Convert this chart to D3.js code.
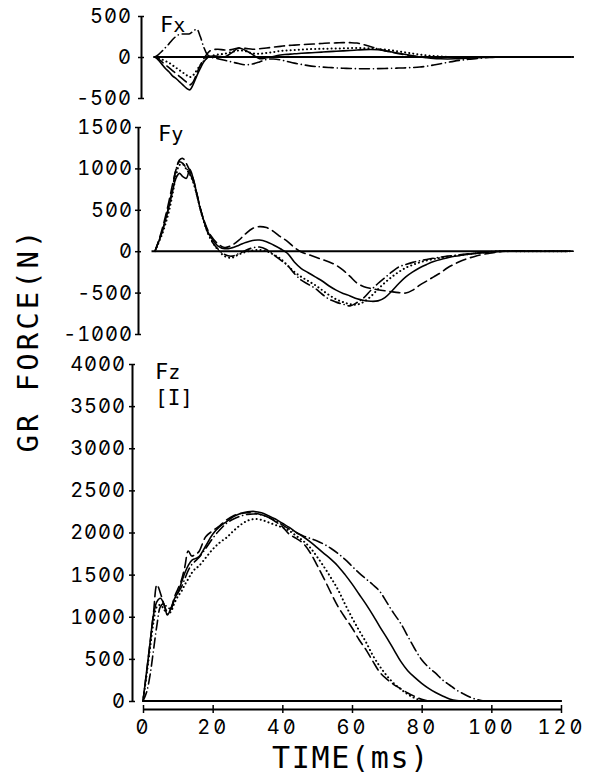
<!DOCTYPE html>
<html><head><meta charset="utf-8">
<script src="https://cdn.jsdelivr.net/npm/d3@7"></script>
<style>body{margin:0;background:#fff}svg{display:block}
.num{font-family:Inter,'DejaVu Sans Mono',monospace;font-feature-settings:"zero" 1,"tnum" 1;}</style>
</head><body>
<svg id="c" width="596" height="775"></svg>
<script>
// time samples (ms), shared by all series
const T = [0,1,2,3,4,5,6,7,8,9,10,11,12,13,14,15,16,
  18,20,22,24,26,28,30,32,34,36, 38,40,42,44,46,48,50,52,54,56,
  58,60,62,64,66,68,70,72,74,76, 78,80,82,84,86,88,90,92,94,96, 98,100, 110,120];

// Fx (N)
const fxSolid = [0,-40,-90,-140,-180,-230,-260,-300,-340,-380,-400,-330,-230,-140,-60,-10,10,
  10,0,50,110,80,30,-20,-10,5,25, 32,40,45,50,55,60,65,70,75,80,
  85,90,92,88,75,60,45,30,15,0, -10,-18,-22,-24,-22,-18,-14,-10,-6,-3, 0,0, 0,0];
const fxDashDot = [0,30,70,115,160,210,250,275,280,280,285,315,340,250,120,30,0,
  -20,-40,-60,-80,-95,-85,-60,-30,-25,-35, -55,-75,-90,-105,-115,-122,-128,-133,-137,-140,
  -142,-143,-143,-142,-140,-138,-135,-132,-128,-122, -112,-98,-82,-65,-50,-38,-28,-20,-12,-6, -2,0, 0,0];
const fxDashed = [0,-25,-60,-95,-130,-165,-200,-235,-270,-305,-340,-300,-200,-100,-20,40,80,
  95,85,90,110,105,95,100,110,120,130, 140,145,150,155,160,165,170,172,175,175,
  170,150,125,100,78,58,40,25,12,3, 0,0,0,0,0,0,0,0,0,0, 0,0, 0,0];
const fxDotted = [0,-15,-30,-50,-70,-100,-130,-160,-190,-220,-245,-220,-160,-100,-50,-10,10,
  30,40,60,80,70,45,40,50,60,75, 80,85,90,95,98,100,102,104,106,108,
  110,108,104,98,90,80,68,55,42,30, 20,12,6,2,0,0,0,0,0,0, 0,0, 0,0];

// Fy (N)
const fySolid = [0,110,230,380,540,720,880,940,900,880,990,870,690,510,370,250,170,
  65,30,40,70,105,130,135,115,75,30, -25,-130,-210,-260,-310,-360,-420,-470,-510,-540,
  -575,-595,-605,-600,-560,-480,-390,-310,-250,-200, -160,-125,-100,-80,-62,-48,-36,-26,-17,-10, -4,0, 0,0];
const fyDashed = [0,120,260,420,600,800,980,1100,1120,1060,970,870,700,520,380,270,190,
  90,45,70,130,210,275,297,285,240,175, 120,45,-10,-40,-70,-100,-130,-170,-230,-305,
  -385,-428,-450,-465,-478,-490,-500,-505,-470,-410, -360,-310,-260,-200,-155,-115,-85,-60,-40,-25, -12,0, 0,0];
const fyDashDot = [0,110,230,380,550,750,980,1080,1060,1000,940,840,690,520,370,240,140,
  30,-40,-60,-30,10,40,50,20,-40,-105, -170,-270,-350,-400,-450,-520,-580,-615,-640,-660,
  -620,-560,-470,-390,-320,-250,-190,-160,-135,-115, -100,-85,-72,-60,-50,-40,-32,-24,-16,-10, -4,0, 0,0];
const fyDotted = [0,100,200,330,480,680,900,1040,1050,990,930,830,680,510,360,240,150,
  20,-60,-80,-40,-10,10,15,0,-40,-90, -170,-250,-310,-360,-410,-470,-530,-580,-615,-640,
  -645,-610,-545,-460,-380,-310,-250,-200,-165,-135, -112,-95,-80,-67,-55,-45,-35,-26,-18,-10, -4,0, 0,0];

// Fz (N)
const fzSolid = [0,340,680,1020,1180,1220,1150,1020,1100,1210,1290,1400,1520,1610,1670,1690,1710,
  1840,1980,2070,2130,2190,2225,2245,2250,2235,2200, 2160,2110,2060,2000,1950,1890,1820,1750,1680,1600,
  1500,1390,1270,1150,1020,880,750,610,470,360, 280,210,150,100,60,25,5,0,0,0, 0,0, 0,0];
const fzDashed = [0,330,680,1040,1380,1280,1150,1060,1090,1230,1330,1430,1590,1780,1720,1740,1770,
  1950,2020,2080,2150,2200,2225,2235,2230,2210,2180, 2130,2070,1980,1930,1870,1760,1610,1450,1280,1120,
  990,870,730,610,470,340,260,195,145,95, 55,20,0,0,0,0,0,0,0,0, 0,0, 0,0];
const fzDotted = [0,300,620,930,1120,1140,1090,1030,1060,1160,1240,1300,1380,1450,1520,1570,1600,
  1700,1800,1880,1940,2020,2090,2140,2160,2150,2120, 2090,2060,2020,1960,1900,1820,1710,1590,1460,1320,
  1150,990,840,700,540,410,300,210,140,80, 35,5,0,0,0,0,0,0,0,0, 0,0, 0,0];
const fzDashDot = [0,100,300,600,900,1120,1160,1110,1100,1200,1280,1350,1450,1550,1620,1660,1700,
  1810,1930,2030,2110,2160,2195,2215,2220,2210,2180, 2140,2090,2040,2000,1960,1930,1900,1860,1810,1750,
  1680,1600,1520,1450,1380,1300,1170,1040,920,770, 620,490,400,330,250,190,130,85,45,15, 0,0, 0,0];

// tick labels
const fxTicks = [-500, 0, 500];
const fyTicks = [-1000, -500, 0, 500, 1000, 1500];
const fzTicks = [0, 500, 1000, 1500, 2000, 2500, 3000, 3500, 4000];
const timeTicks = [0, 20, 40, 60, 80, 100, 120];

const FONT = "'DejaVu Sans Mono', monospace";
const svg = d3.select('#c');

const xLow = d3.scaleLinear().domain([0,120]).range([143,561]);
const xUp  = d3.scaleLinear().domain([0,120]).range([155,573]);

const dash = {solid:null, dashed:"10,5", dotted:"0.1,4", dashdot:"10,4,0.1,4"};

const panels = [
  {y:d3.scaleLinear().domain([-500,500]).range([98,16]), ax:141, pad:6, ticks:fxTicks, x:xUp,
   series:[[fxSolid,'solid'],[fxDashed,'dashed'],[fxDotted,'dotted'],[fxDashDot,'dashdot']],
   zero:[-0.5,119.5], lab:'F', sub:'x', lx:160, ly:32},
  {y:d3.scaleLinear().domain([-1000,1500]).range([334,127]), ax:138, pad:2, ticks:fyTicks, x:xUp,
   series:[[fySolid,'solid'],[fyDashed,'dashed'],[fyDotted,'dotted'],[fyDashDot,'dashdot']],
   zero:[-1,118.5], lab:'F', sub:'y', lx:158, ly:141},
  {y:d3.scaleLinear().domain([0,4000]).range([701,364]), ax:132, pad:3, ticks:fzTicks, x:xLow,
   series:[[fzSolid,'solid'],[fzDashed,'dashed'],[fzDotted,'dotted'],[fzDashDot,'dashdot']],
   zero:[0,120], lab:'F', sub:'z', lx:155, ly:379}
];

panels.forEach(p => {
  const g = svg.append('g').attr('transform', `translate(${p.ax},0)`);
  g.call(d3.axisLeft(p.y).tickValues(p.ticks).tickSize(3).tickSizeOuter(0)
      .tickPadding(p.pad).tickFormat(d => String(d)));
  g.select('.domain').attr('stroke','#000').attr('stroke-width',2);
  g.selectAll('.tick line').attr('stroke','#000').attr('stroke-width',1.5);
  g.selectAll('.tick').append('line').attr('x1',0).attr('x2',3).attr('stroke','#000').attr('stroke-width',1.5);
  g.selectAll('.tick text').attr('class','num').attr('font-family',null).attr('font-size',20)
    .attr('letter-spacing',1).attr('fill','#000');

  // zero reference line
  svg.append('line')
    .attr('x1', p.x(p.zero[0])).attr('x2', p.x(p.zero[1]))
    .attr('y1', p.y(0)).attr('y2', p.y(0))
    .attr('stroke','#000').attr('stroke-width',2);

  const line = d3.line()
    .x((d,i) => p.x(T[i]))
    .y(d => p.y(d))
    .curve(d3.curveCatmullRom.alpha(0.5));
  p.series.forEach(([vals, st]) => {
    svg.append('path').attr('d', line(vals))
      .attr('fill','none').attr('stroke','#000')
      .attr('stroke-width', st==='dotted' ? 2 : 1.6)
      .attr('stroke-linecap','round')
      .attr('stroke-dasharray', dash[st]);
  });

  const t = svg.append('text').attr('x',p.lx).attr('y',p.ly)
    .attr('font-family',FONT).attr('font-size',22).attr('fill','#000');
  t.append('tspan').text(p.lab);
  t.append('tspan').text(p.sub).attr('font-size',20);
});

svg.append('text').attr('x',155).attr('y',405)
  .attr('font-family',FONT).attr('font-size',21).attr('fill','#000').text('[I]');

// time axis
const gx = svg.append('g').attr('transform','translate(0,709)');
gx.call(d3.axisBottom(xLow).tickValues(timeTicks).tickSize(4).tickSizeOuter(0)
  .tickPadding(7).tickFormat(d => String(d)));
gx.select('.domain').attr('stroke','#000').attr('stroke-width',2);
gx.selectAll('.tick line').attr('stroke','#000').attr('stroke-width',1.5);
gx.selectAll('.tick').append('line').attr('y1',0).attr('y2',-4).attr('stroke','#000').attr('stroke-width',1.5);
gx.selectAll('.tick text').attr('class','num').attr('font-family',null).attr('font-size',20)
  .attr('letter-spacing',3).attr('fill','#000');

svg.append('text').attr('x',351).attr('y',768).attr('text-anchor','middle')
  .attr('font-family',FONT).attr('font-size',30).attr('letter-spacing',1.7).attr('fill','#000')
  .text('TIME(ms)');

svg.append('text').attr('transform','translate(38,340) rotate(-90)').attr('text-anchor','middle')
  .attr('font-family',FONT).attr('font-size',29).attr('letter-spacing',3).attr('fill','#000')
  .text('GR FORCE(N)');
</script>
</body></html>
